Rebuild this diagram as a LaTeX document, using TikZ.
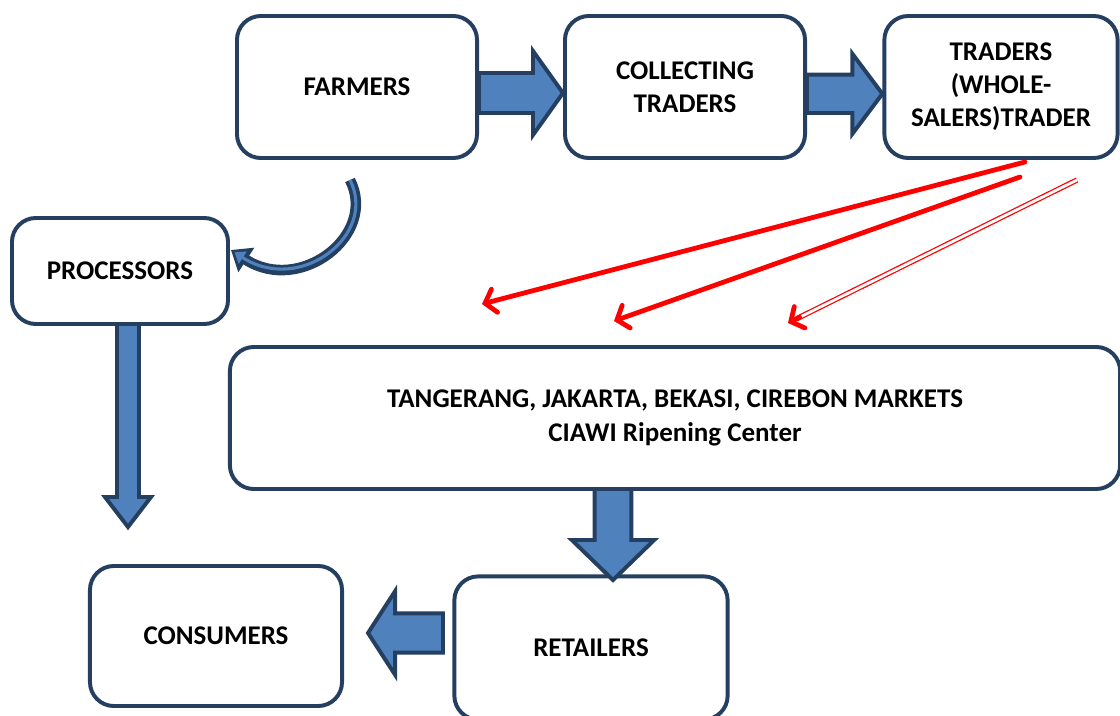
\documentclass[tikz,border=0pt]{standalone}
\usepackage{fontspec}
\setmainfont{Carlito}
\usetikzlibrary{calc,arrows.meta}

\definecolor{navy}{HTML}{243F60}
\definecolor{arrowblue}{HTML}{4F81BD}

\tikzset{
  box/.style={draw=navy, line width=2.8pt, rounded corners=17pt, fill=white,
    align=center, font=\bfseries\fontsize{19.2}{23.6}\selectfont},
  barrow/.style={draw=navy, fill=arrowblue, line width=2.8pt, line join=miter},
  redarr/.style={red, line width=3.4pt, line cap=round,
    -{Straight Barb[length=7pt,width=17pt,line cap=round]}},
  dblred/.style={draw=red, double=white, double distance=2pt, line width=0.9pt}
}

% block arrow: from, to, shaft half width, head half width, head length
\newcommand\blockarrow[5]{%
  \coordinate (ba-s) at (#1);
  \coordinate (ba-e) at (#2);
  \coordinate (ba-h) at ($(ba-e)!#5!(ba-s)$);
  \filldraw[barrow] ($(ba-s)!#3!90:(ba-e)$) -- ($(ba-h)!#3!-90:(ba-s)$)
    -- ($(ba-h)!#4!-90:(ba-s)$) -- (ba-e) -- ($(ba-h)!#4!90:(ba-s)$)
    -- ($(ba-h)!#3!90:(ba-s)$) -- ($(ba-s)!#3!-90:(ba-e)$) -- cycle;
}

\begin{document}
\begin{tikzpicture}[x=0.025cm, y=-0.025cm]
  \useasboundingbox (0,0) rectangle (1120,716);
  \clip (0,0) rectangle (1120,716);

  \node[box, minimum width=6cm, minimum height=3.55cm] (farmers) at (357,87) {FARMERS};
  \node[box, minimum width=6cm, minimum height=3.55cm] (collect) at (685,87) {COLLECTING\\TRADERS};
  \node[box, minimum width=5.83cm, minimum height=3.55cm] (traders) at (1001,87) {TRADERS\\(WHOLE-\\SALERS)TRADER};
  \node[box, minimum width=5.4cm, minimum height=2.65cm] (processors) at (120,271) {PROCESSORS};
  \node[box, minimum width=22.25cm, minimum height=3.55cm] (market) at (675,418) {TANGERANG, JAKARTA, BEKASI, CIREBON MARKETS\\CIAWI Ripening Center};
  \node[box, minimum width=6.3cm, minimum height=3.5cm] (consumers) at (216,636) {CONSUMERS};
  \node[box, minimum width=6.83cm, minimum height=3.58cm] (retailers) at (591,648) {RETAILERS};

  \coordinate (p1) at (128,324);
  \coordinate (p2) at (128,527);
  \coordinate (m1) at (613,489);
  \coordinate (m2) at (613,580);
  \coordinate (r1) at (443,633);
  \coordinate (r2) at (368,633);
  \coordinate (c1) at (350,180);
  \coordinate (c2) at (231,250);
  \coordinate (t1) at (1025,162);
  \coordinate (t2) at (1020,177);
  \coordinate (t3) at (1077,180);
  \coordinate (e1) at (482,304);
  \coordinate (e2) at (614,321);
  \coordinate (e3) at (788,323);

  \blockarrow{[yshift=-0.15cm]farmers.east}{[yshift=-0.15cm]collect.west}{0.5cm}{1.05cm}{0.75cm}
  \blockarrow{[yshift=-0.17cm]collect.east}{[yshift=-0.17cm]traders.west}{0.48cm}{1cm}{0.75cm}
  \blockarrow{p1}{p2}{0.275cm}{0.575cm}{0.75cm}
  \blockarrow{m1}{m2}{0.46cm}{1.03cm}{1cm}
  \blockarrow{r1}{r2}{0.49cm}{1.05cm}{0.68cm}

  \draw[navy, line width=7.5pt, -{Triangle[length=13pt,width=20pt]}]
    (c1) .. controls (378,235) and (300,295) .. (c2);
  \draw[arrowblue, line width=2.2pt, shorten >=3pt, -{Triangle[length=7pt,width=10pt]}]
    (c1) .. controls (378,235) and (300,295) .. (c2);

  \draw[redarr] (t1) -- (e1);
  \draw[redarr] (t2) -- (e2);
  \draw[dblred] (t3) -- ($(e3)!0.03!(t3)$);
  \draw[redarr] ($(e3)!0.04!(t3)$) -- (e3);
\end{tikzpicture}
\end{document}
